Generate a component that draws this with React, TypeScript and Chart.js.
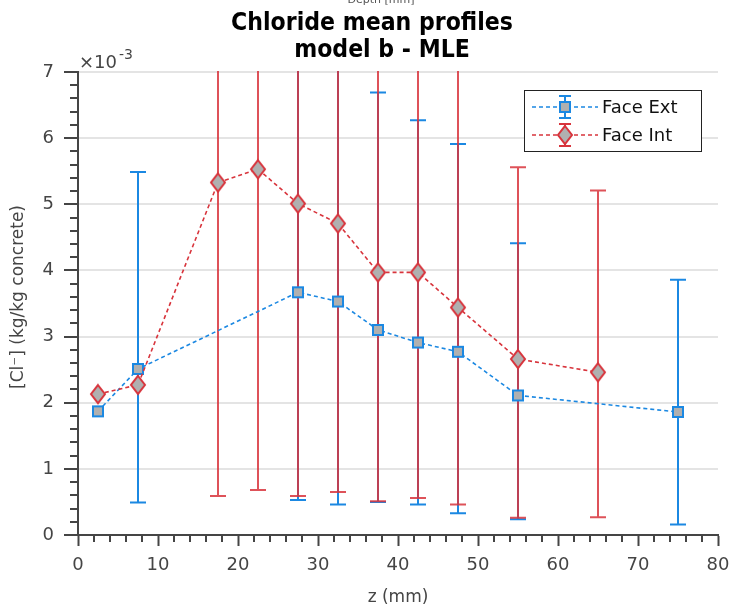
import React, { useEffect, useRef } from "react";
import { Chart, registerables } from "chart.js";
Chart.register(...registerables);

// Face Ext (values in units of 1e-3 kg/kg concrete)
const extDepth = [2.5, 7.5, 27.5, 32.5, 37.5, 42.5, 47.5, 55, 75];
const extMean = [1.87, 2.51, 3.67, 3.53, 3.1, 2.91, 2.77, 2.11, 1.86];
const extLow: (number | null)[] = [null, 0.49, 0.53, 0.46, 0.5, 0.46, 0.33, 0.24, 0.16];
const extHigh: (number | null)[] = [null, 5.49, 9.0, 9.0, 6.69, 6.27, 5.91, 4.41, 3.86];

// Face Int
const intDepth = [2.5, 7.5, 17.5, 22.5, 27.5, 32.5, 37.5, 42.5, 47.5, 55, 65];
const intMean = [2.13, 2.27, 5.33, 5.53, 5.01, 4.71, 3.97, 3.97, 3.44, 2.66, 2.46];
const intLow: (number | null)[] = [null, null, 0.59, 0.68, 0.59, 0.65, 0.51, 0.56, 0.46, 0.26, 0.27];
const intHigh: (number | null)[] = [null, null, 9.0, 9.0, 9.0, 9.0, 9.0, 9.0, 9.0, 5.56, 5.21];

const seriesNames = ["Face Ext", "Face Int"];
const titleLines = ["Chloride mean profiles", "model b - MLE"];
const xLabel = "z (mm)";
const yLabel = "[Cl\u207B] (kg/kg concrete)";

const BLUE = "#1b88e2";
const RED = "#d8343c";
const GRAYFILL = "#b0b0b0";
const AXIS = "#454545";
const FONT = "'DejaVu Sans', sans-serif";

function makeSquare(): HTMLCanvasElement {
  const c = document.createElement("canvas");
  c.width = 14;
  c.height = 14;
  const g = c.getContext("2d")!;
  g.fillStyle = GRAYFILL;
  g.fillRect(2, 2, 10, 10);
  g.strokeStyle = BLUE;
  g.lineWidth = 2;
  g.strokeRect(2, 2, 10, 10);
  return c;
}

function makeDiamond(): HTMLCanvasElement {
  const c = document.createElement("canvas");
  c.width = 18;
  c.height = 22;
  const g = c.getContext("2d")!;
  g.beginPath();
  g.moveTo(9, 2);
  g.lineTo(16, 11);
  g.lineTo(9, 20);
  g.lineTo(2, 11);
  g.closePath();
  g.fillStyle = GRAYFILL;
  g.fill();
  g.strokeStyle = RED;
  g.lineWidth = 2;
  g.stroke();
  return c;
}

export default function App() {
  const ref = useRef<HTMLCanvasElement | null>(null);

  useEffect(() => {
    if (!ref.current) return;
    const square = makeSquare();
    const diamond = makeDiamond();

    const errorBars = {
      id: "errorBars",
      beforeDatasetsDraw(chart: any) {
        const { ctx, chartArea, scales } = chart;
        const xs = scales.x;
        const ys = scales.y;
        ctx.save();
        ctx.beginPath();
        ctx.rect(chartArea.left, chartArea.top - 1, chartArea.right - chartArea.left, chartArea.bottom - chartArea.top + 2);
        ctx.clip();
        const draw = (xsArr: number[], lo: (number | null)[], hi: (number | null)[], color: string, alpha: number) => {
          ctx.strokeStyle = color;
          ctx.globalAlpha = alpha;
          ctx.lineWidth = 2;
          xsArr.forEach((xv, i) => {
            const l = lo[i];
            const h = hi[i];
            if (l == null || h == null) return;
            const px = Math.round(xs.getPixelForValue(xv));
            const pl = ys.getPixelForValue(l);
            const ph = ys.getPixelForValue(h);
            ctx.beginPath();
            ctx.moveTo(px, pl);
            ctx.lineTo(px, ph);
            ctx.moveTo(px - 8, pl);
            ctx.lineTo(px + 8, pl);
            ctx.moveTo(px - 8, ph);
            ctx.lineTo(px + 8, ph);
            ctx.stroke();
          });
        };
        draw(extDepth, extLow, extHigh, BLUE, 1);
        draw(intDepth, intLow, intHigh, RED, 0.85);
        ctx.restore();
      },
    };

    const decorations = {
      id: "decorations",
      afterDraw(chart: any) {
        const { ctx, chartArea, scales } = chart;
        const xs = scales.x;
        const ys = scales.y;
        ctx.save();
        // minor ticks
        ctx.strokeStyle = AXIS;
        ctx.lineWidth = 2;
        ctx.beginPath();
        for (let k = 0; k <= 70; k += 2) {
          const v = k / 10;
          if (k % 10 === 0) continue;
          const py = Math.round(ys.getPixelForValue(v));
          ctx.moveTo(chartArea.left - 8, py);
          ctx.lineTo(chartArea.left, py);
        }
        for (let v = 0; v <= 80; v += 2) {
          if (v % 10 === 0) continue;
          const px = Math.round(xs.getPixelForValue(v));
          ctx.moveTo(px, chartArea.bottom);
          ctx.lineTo(px, chartArea.bottom + 7);
        }
        ctx.stroke();

        // tiny clipped header text
        ctx.fillStyle = "#555";
        ctx.font = `11px ${FONT}`;
        ctx.textAlign = "center";
        ctx.textBaseline = "middle";
        ctx.fillText("Depth [mm]", 381, 0);

        // title
        ctx.fillStyle = "#000";
        ctx.font = `bold 24px ${FONT}`;
        ctx.textBaseline = "alphabetic";
        ctx.textAlign = "center";
        ctx.save();
        ctx.translate(372, 30);
        ctx.scale(0.92, 1);
        ctx.fillText(titleLines[0], 0, 0);
        ctx.restore();
        ctx.save();
        ctx.translate(382, 57);
        ctx.scale(0.92, 1);
        ctx.fillText(titleLines[1], 0, 0);
        ctx.restore();

        // exponent label
        ctx.fillStyle = AXIS;
        ctx.textAlign = "left";
        ctx.font = `18px ${FONT}`;
        ctx.fillText("\u00D710", 79, 68);
        ctx.font = `14px ${FONT}`;
        ctx.fillText("-3", 119, 59);

        // axis titles
        ctx.font = `17px ${FONT}`;
        ctx.textAlign = "center";
        ctx.textBaseline = "middle";
        ctx.fillText(xLabel, (chartArea.left + chartArea.right) / 2, 598);
        ctx.save();
        ctx.translate(19, 297);
        ctx.rotate(-Math.PI / 2);
        ctx.fillText(yLabel, 0, 0);
        ctx.restore();

        // legend
        const lx = 524.5, ly = 90.5, lw = 177, lh = 61;
        ctx.fillStyle = "#fff";
        ctx.fillRect(lx, ly, lw, lh);
        ctx.strokeStyle = "#222";
        ctx.lineWidth = 1;
        ctx.strokeRect(lx, ly, lw, lh);
        const rows = [
          { y: 107, color: BLUE, img: square, name: seriesNames[0] },
          { y: 135, color: RED, img: diamond, name: seriesNames[1] },
        ];
        rows.forEach((r) => {
          ctx.strokeStyle = r.color;
          ctx.lineWidth = 1.5;
          ctx.setLineDash([4, 3]);
          ctx.beginPath();
          ctx.moveTo(532, r.y);
          ctx.lineTo(598, r.y);
          ctx.stroke();
          ctx.setLineDash([]);
          ctx.lineWidth = 2;
          ctx.beginPath();
          ctx.moveTo(565, r.y - 11);
          ctx.lineTo(565, r.y + 11);
          ctx.moveTo(559, r.y - 11);
          ctx.lineTo(571, r.y - 11);
          ctx.moveTo(559, r.y + 11);
          ctx.lineTo(571, r.y + 11);
          ctx.stroke();
          ctx.drawImage(r.img, 565 - r.img.width / 2, r.y - r.img.height / 2);
          ctx.fillStyle = "#111";
          ctx.font = `18px ${FONT}`;
          ctx.textAlign = "left";
          ctx.textBaseline = "middle";
          ctx.fillText(r.name, 602, r.y + 1);
        });
        ctx.restore();
      },
    };

    const chart = new Chart(ref.current, {
      type: "scatter",
      data: {
        datasets: [
          {
            label: seriesNames[1],
            data: intDepth.map((x, i) => ({ x, y: intMean[i] })),
            showLine: true,
            borderColor: RED,
            borderWidth: 1.6,
            borderDash: [4, 3],
            pointStyle: diamond as any,
            pointRadius: 9,
          },
          {
            label: seriesNames[0],
            data: extDepth.map((x, i) => ({ x, y: extMean[i] })),
            showLine: true,
            borderColor: BLUE,
            borderWidth: 1.6,
            borderDash: [4, 3],
            pointStyle: square as any,
            pointRadius: 7,
          },
        ],
      },
      options: {
        animation: false,
        responsive: true,
        maintainAspectRatio: false,
        layout: { padding: { left: 0, right: 13, top: 72, bottom: 0 } },
        plugins: { legend: { display: false }, tooltip: { enabled: false }, title: { display: false } },
        scales: {
          x: {
            type: "linear",
            min: 0,
            max: 80,
            afterFit(scale: any) {
              scale.height = 75;
              scale.paddingLeft = 0;
              scale.paddingRight = 0;
            },
            ticks: { stepSize: 10, color: AXIS, font: { family: FONT, size: 18 }, padding: 9, maxRotation: 0 },
            grid: { drawOnChartArea: false, tickLength: 11, tickColor: AXIS, tickWidth: 2 },
            border: { color: AXIS, width: 2 },
          },
          y: {
            type: "linear",
            min: 0,
            max: 7,
            afterFit(scale: any) {
              scale.width = 78;
              scale.paddingTop = 0;
              scale.paddingBottom = 0;
            },
            ticks: { stepSize: 1, color: AXIS, font: { family: FONT, size: 18 }, padding: 10 },
            grid: { color: "#e4e4e4", lineWidth: 2, tickLength: 14, tickColor: AXIS, tickWidth: 2 },
            border: { color: AXIS, width: 2 },
          },
        },
      },
      plugins: [errorBars, decorations],
    });
    return () => chart.destroy();
  }, []);

  return (
    <div style={{ position: "fixed", left: 0, top: 0, width: 731, height: 610, background: "#fff" }}>
      <canvas ref={ref} />
    </div>
  );
}
